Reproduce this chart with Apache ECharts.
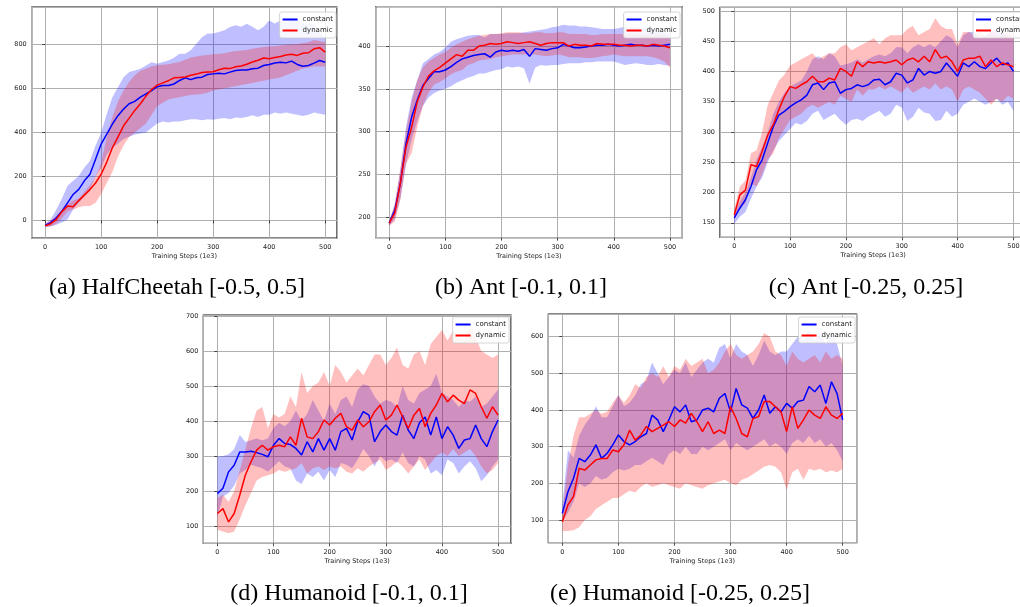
<!DOCTYPE html>
<html>
<head>
<meta charset="utf-8">
<script src="https://cdn.jsdelivr.net/npm/echarts@6/dist/echarts.min.js"></script>
<style>
  html, body { margin: 0; padding: 0; background: #fff; }
  #chart { width: 1020px; height: 607px; }
</style>
</head>
<body>
<div id="chart"></div>
<script>
// training steps (1e3)
const steps = [0,10,20,30,40,50,60,70,80,90,100,110,120,130,140,150,160,170,180,190,200,210,220,230,240,250,260,270,280,290,300,310,320,330,340,350,360,370,380,390,400,410,420,430,440,450,460,470,480,490,500]

// (a) HalfCheetah
const aConstMean = [-23,-10,12,42,80,118,141,180,210,278,347,392,438,476,506,530,541,560,575,590,608,613,613,620,636,648,640,648,651,663,666,669,666,674,681,684,684,689,692,704,709,715,719,716,724,709,701,704,715,727,719]
const aConstLow  = [-30,-28,-20,-10,5,50,80,110,140,200,240,300,330,350,370,380,390,395,400,420,440,450,445,450,450,455,460,460,455,460,458,462,465,460,468,465,470,478,470,480,480,490,485,490,485,480,475,480,490,485,480]
const aConstHigh = [-15,5,50,100,157,180,202,240,270,340,400,484,560,605,651,674,681,689,704,719,712,720,727,739,757,757,773,803,833,849,849,856,864,879,887,880,894,880,864,880,909,895,909,900,925,915,895,895,890,850,833]
const aDynMean   = [-25,-15,5,40,65,62,90,115,140,170,210,265,330,380,430,465,500,530,565,595,615,625,635,648,650,652,660,665,672,675,676,685,692,690,698,702,710,720,728,738,735,740,745,752,755,750,760,762,780,785,765]
const aDynLow    = [-30,-28,-15,10,40,50,60,65,65,80,120,170,220,290,340,380,400,420,440,480,520,535,550,555,560,565,570,572,575,580,590,595,600,605,610,615,620,625,630,635,640,645,650,660,670,680,690,695,700,700,700]
const aDynHigh   = [-15,0,20,50,75,90,100,130,160,200,260,380,470,540,590,630,660,680,690,700,705,708,710,715,720,730,740,745,750,752,755,758,760,765,770,772,775,780,785,788,790,792,795,798,800,802,805,810,820,815,810]

// (b) Ant [-0.1, 0.1]
const bConstMean = [193,208,240,286,317,337,354,362,370,370,372,376,381,385,387,389,390,391,387,393,395,394,395,394,396,388,397,396,395,397,398,402,400,398,398,399,400,401,401,402,401,400,401,402,401,401,400,401,400,401,402]
const bConstLow  = [190,198,222,262,290,312,330,340,345,348,350,353,357,360,363,365,368,368,370,372,373,376,375,376,374,356,375,378,377,378,378,379,380,380,380,381,381,382,382,382,382,380,378,379,380,379,378,378,379,378,377]
const bConstHigh = [195,215,255,305,340,360,380,385,390,393,398,405,408,410,412,413,413,410,414,414,414,415,415,415,416,417,418,419,420,422,423,425,424,424,423,423,422,421,420,420,420,421,423,422,422,421,420,419,418,416,415]
const bDynMean   = [193,205,240,282,305,335,352,365,371,375,380,385,390,388,395,395,400,401,403,402,403,405,404,403,404,405,403,401,403,404,404,404,400,402,401,401,400,403,402,402,402,401,401,400,401,401,400,402,401,400,398]
const bDynLow    = [190,195,220,262,275,305,330,345,355,358,362,367,370,372,378,380,383,384,385,387,388,389,390,390,390,390,390,389,388,389,390,389,387,387,387,386,386,387,388,389,390,389,388,388,388,388,388,387,385,382,375]
const bDynHigh   = [195,215,258,300,335,360,375,382,386,390,393,398,402,405,408,410,412,413,414,414,415,416,416,416,415,415,416,416,415,415,416,416,414,414,414,414,413,413,414,414,414,414,414,414,414,413,413,414,414,413,410]

// (c) Ant [-0.25, 0.25]
const cConstMean = [158,174,188,210,238,254,282,309,328,334,342,348,353,361,378,381,370,381,383,364,370,372,378,375,378,386,387,378,383,397,394,381,386,405,394,400,397,400,414,403,392,414,408,416,408,405,414,422,411,414,400]
const cConstLow  = [148,160,168,190,210,225,250,270,285,295,305,315,312,318,330,335,320,325,330,320,312,320,322,318,325,330,335,325,330,345,340,318,325,340,332,330,318,320,335,325,330,345,350,355,350,345,350,355,345,350,335]
const cConstHigh = [165,185,200,225,255,275,300,330,350,365,375,380,385,400,420,425,420,430,425,410,412,415,420,415,420,425,428,425,430,440,440,430,440,445,440,445,440,450,460,455,440,460,465,465,455,460,465,470,462,460,455]
const cDynMean   = [163,196,204,246,243,268,295,312,337,359,375,372,378,383,392,383,383,389,386,405,400,392,416,408,416,414,416,414,416,419,411,419,422,416,425,416,436,422,425,416,400,419,422,422,425,408,419,408,414,411,408]
const cDynLow    = [155,175,182,215,210,230,255,265,290,305,320,325,330,340,345,340,345,350,345,360,355,350,370,360,370,370,375,370,375,370,365,375,365,370,375,370,380,370,375,370,350,370,375,370,365,355,345,355,350,360,355]
const cDynHigh   = [172,210,220,265,270,300,345,365,385,395,410,415,420,425,430,420,425,430,430,440,445,435,440,445,450,455,445,455,460,460,460,470,475,460,465,470,488,475,470,470,445,465,465,460,470,455,470,460,460,465,460]

// (d) Humanoid [-0.1, 0.1]
const dConstMean = [193,208,255,274,312,312,314,310,305,298,331,350,336,333,322,303,341,312,350,317,350,317,370,379,346,398,427,417,341,370,389,370,360,417,374,350,395,412,360,412,350,384,360,322,346,350,389,350,327,370,403]
const dConstLow  = [125,185,195,215,250,260,275,270,265,255,270,285,270,265,230,220,250,240,255,230,260,240,280,275,265,290,320,300,270,300,285,290,280,310,280,270,300,290,250,260,245,290,280,250,270,285,265,228,245,270,290]
const dConstHigh = [298,300,305,320,360,340,345,350,345,350,380,395,385,400,430,400,420,460,430,400,450,420,460,470,440,490,505,500,470,450,460,455,440,500,460,450,480,490,500,535,480,470,460,440,460,455,470,440,450,470,490]
const dDynMean   = [136,150,112,136,189,246,284,317,331,317,327,331,327,355,331,408,355,350,370,403,389,408,422,384,374,403,384,398,427,446,403,417,446,412,379,417,436,384,422,446,479,455,474,460,450,489,479,441,408,441,417]
const dDynLow    = [90,85,80,85,120,160,195,230,240,245,250,260,255,260,265,280,250,265,270,260,270,265,270,255,250,265,255,270,280,290,260,270,285,270,250,270,290,260,280,300,310,300,320,300,310,320,300,270,250,260,280]
const dDynHigh   = [180,190,170,200,260,320,380,430,440,380,420,410,420,470,440,540,480,500,510,540,500,560,540,510,530,550,530,560,590,590,560,580,610,560,550,590,600,560,620,640,660,630,660,640,630,670,640,600,590,580,590]

// (e) Humanoid [-0.25, 0.25]
const eConstMean = [118,177,214,268,259,277,305,268,282,305,332,314,305,314,327,336,386,373,341,373,409,395,414,368,373,400,405,395,432,445,395,459,414,405,377,400,441,391,409,395,418,405,423,427,464,450,468,418,477,445,373]
const eConstLow  = [95,120,150,200,190,200,220,210,215,230,240,235,240,250,250,260,270,260,250,280,290,280,300,280,280,300,290,300,310,320,290,310,300,290,300,310,320,300,310,300,280,310,320,310,330,310,320,300,310,290,260]
const eConstHigh = [140,290,270,330,360,380,410,380,380,410,440,410,420,440,470,480,530,500,470,490,510,500,530,490,510,530,540,530,570,580,540,580,560,550,520,550,590,560,550,560,560,580,600,590,620,590,610,580,610,580,520]
const eDynMean   = [95,141,164,241,236,250,264,268,268,291,286,305,345,318,332,355,341,350,359,368,355,373,364,391,368,341,368,336,345,336,409,377,336,327,377,382,423,423,409,395,341,409,350,373,400,386,377,409,386,377,391]
const eDynLow    = [70,70,72,80,100,110,130,140,150,160,160,170,180,175,190,200,190,195,200,195,190,185,200,195,190,185,195,200,205,210,200,195,210,215,225,235,245,250,245,230,182,230,240,210,240,235,240,230,235,230,240]
const eDynHigh   = [120,250,330,380,380,390,400,390,395,420,440,420,440,470,460,490,500,490,520,490,520,510,540,520,530,540,500,510,530,560,580,550,540,550,560,580,610,600,560,550,520,560,540,530,540,550,530,560,540,550,540]

const captions = ['(a) HalfCheetah [-0.5, 0.5]', '(b) Ant [-0.1, 0.1]', '(c) Ant [-0.25, 0.25]', '(d) Humanoid [-0.1, 0.1]', '(e) Humanoid [-0.25, 0.25]']
const seriesNames = ['constant', 'dynamic']

// layout of the five panels
const panels = [
  { grid: { left: 31.7, top: 7, width: 305.3, height: 231 }, x: [-24, 521], y: [-80, 970], step: 200, legend: { right: 684, top: 12 }, cap: [177, 288],
    c: [aConstMean, aConstLow, aConstHigh], d: [aDynMean, aDynLow, aDynHigh] },
  { grid: { left: 375.7, top: 6.7, width: 306.6, height: 231 }, x: [-24, 522], y: [176, 446], step: 50, legend: { right: 340, top: 12 }, cap: [521, 288],
    c: [bConstMean, bConstLow, bConstHigh], d: [bDynMean, bDynLow, bDynHigh] },
  { grid: { left: 720, top: 7.3, width: 306.3, height: 230 }, x: [-25.5, 523], y: [126, 506], step: 50, legend: { left: 973, top: 12 }, cap: [866, 288],
    c: [cConstMean, cConstLow, cConstHigh], d: [cDynMean, cDynLow, cDynHigh] },
  { grid: { left: 203.3, top: 315, width: 307.7, height: 228.3 }, x: [-25, 523], y: [51, 703], step: 100, legend: { right: 511, top: 317 }, cap: [349, 594],
    c: [dConstMean, dConstLow, dConstHigh], d: [dDynMean, dDynLow, dDynHigh] },
  { grid: { left: 548.3, top: 314, width: 308.4, height: 228.7 }, x: [-25, 525], y: [38, 662], step: 100, legend: { right: 165, top: 317 }, cap: [680, 594],
    c: [eConstMean, eConstLow, eConstHigh], d: [eDynMean, eDynLow, eDynHigh] }
]

const labelFont = { fontSize: 6.5, color: '#222', fontFamily: 'DejaVu Sans' }
const toPairs = arr => steps.map((s, i) => [s, arr[i]])

// band polygon: upper edge left->right, then lower edge right->left
function renderBand(params, api) {
  if (params.dataIndexInside !== 0) return
  const n = params.dataInsideLength
  const upper = [], lower = []
  for (let k = 0; k < n; k++) {
    upper.push(api.coord([api.value(0, k), api.value(2, k)]))
    lower.push(api.coord([api.value(0, k), api.value(1, k)]))
  }
  return {
    type: 'polygon',
    shape: { points: upper.concat(lower.reverse()) },
    style: { fill: api.visual('color') },
    silent: true
  }
}

const grids = [], xAxes = [], yAxes = [], series = [], legends = [], graphics = []

panels.forEach((p, i) => {
  grids.push(Object.assign({ show: true, borderColor: '#111', borderWidth: 1.2, backgroundColor: '#fff', containLabel: false, outerBoundsMode: 'none' }, p.grid))

  const common = {
    gridIndex: i, type: 'value',
    axisLine: { show: false },
    axisTick: { show: true, length: 3, lineStyle: { color: '#222', width: 0.8 } },
    axisLabel: Object.assign({ showMinLabel: false, showMaxLabel: false }, labelFont),
    splitLine: { show: true, lineStyle: { color: '#b0b0b0', width: 1 } }
  }
  xAxes.push(Object.assign({}, common, {
    min: p.x[0], max: p.x[1], minInterval: 100, maxInterval: 100,
    axisLabel: Object.assign({}, common.axisLabel, { margin: 6 }),
    name: 'Training Steps (1e3)', nameLocation: 'middle', nameGap: 15, nameTextStyle: labelFont
  }))
  yAxes.push(Object.assign({}, common, {
    min: p.y[0], max: p.y[1], minInterval: p.step, maxInterval: p.step,
    axisLabel: Object.assign({}, common.axisLabel, { margin: 5 })
  }))

  const band = (vals, fill) => {
    series.push({
      type: 'custom', xAxisIndex: i, yAxisIndex: i, clip: true, silent: true, z: 1,
      renderItem: renderBand, itemStyle: { color: fill },
      encode: { x: 0, y: [1, 2] },
      data: steps.map((s, k) => [s, vals[1][k], vals[2][k]])
    })
  }
  band(p.c, 'rgba(0,0,255,0.25)')
  band(p.d, 'rgba(255,0,0,0.25)')

  series.push({
    type: 'line', name: 'constant', xAxisIndex: i, yAxisIndex: i, data: toPairs(p.c[0]),
    symbol: 'none', color: '#0000ff', lineStyle: { color: '#0000ff', width: 1.5 }, z: 3
  })
  series.push({
    type: 'line', name: 'dynamic', xAxisIndex: i, yAxisIndex: i, data: toPairs(p.d[0]),
    symbol: 'none', color: '#ff0000', lineStyle: { color: '#ff0000', width: 1.5 }, z: 3
  })

  legends.push(Object.assign({
    data: seriesNames, orient: 'vertical', icon: 'rect', itemWidth: 15, itemHeight: 2, itemGap: 4,
    padding: [4, 3, 4, 3], backgroundColor: 'rgba(255,255,255,0.85)', borderColor: '#cccccc',
    borderWidth: 0.8, borderRadius: 2, textStyle: Object.assign({}, labelFont, { fontSize: 7 }), selectedMode: false
  }, p.legend))

  graphics.push({
    type: 'text', x: p.cap[0], y: p.cap[1],
    style: { text: captions[i], font: '24px "Liberation Serif"', fill: '#000',
      textAlign: 'center', textVerticalAlign: 'middle', align: 'center', verticalAlign: 'middle' }
  })
})

const myChart = echarts.init(document.getElementById('chart'))
myChart.setOption({
  animation: false,
  backgroundColor: '#fff',
  grid: grids,
  xAxis: xAxes,
  yAxis: yAxes,
  legend: legends,
  series: series,
  graphic: graphics
})
</script>
</body>
</html>
